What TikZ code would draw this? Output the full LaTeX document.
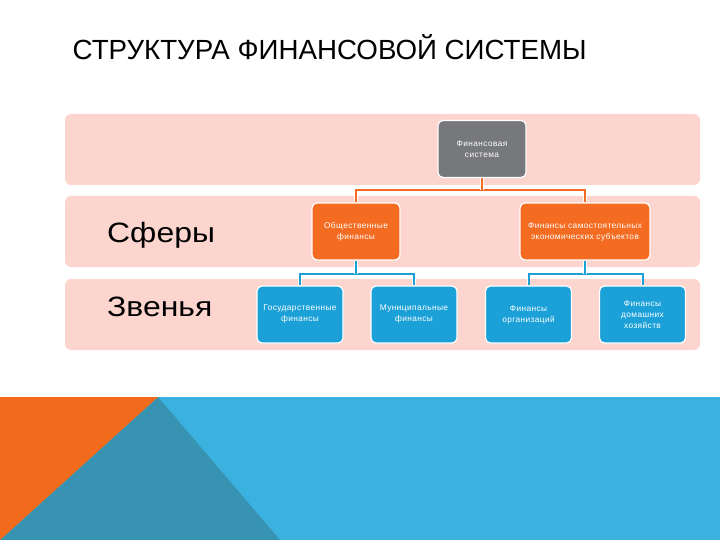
\documentclass[tikz,border=0pt]{standalone}
\usepackage{fontspec}
\setmainfont{Liberation Sans}
\definecolor{bandpink}{HTML}{FCD5CE}
\definecolor{sysgray}{HTML}{77787B}
\definecolor{sphorange}{HTML}{F36C21}
\definecolor{linkblue}{HTML}{1BA1D8}
\definecolor{lightblue}{HTML}{3BB1E0}
\definecolor{darkteal}{HTML}{3893B3}
\definecolor{cornerorange}{HTML}{F26B1D}
\pgfdeclarelayer{bg}
\pgfdeclarelayer{edges}
\pgfsetlayers{bg,edges,main}
\begin{document}
\begin{tikzpicture}[x=1pt, y=-1pt,
    band/.style={fill=bandpink, rounded corners=6pt},
    rowlabel/.style={anchor=base west, inner sep=0, font=\fontsize{28}{30}\selectfont\addfontfeatures{FakeStretch=1.14}},
    box/.style={draw=white, line width=1.2pt, rounded corners=5pt, text=white, align=center,
        font=\fontsize{8.3}{11}\selectfont\addfontfeatures{LetterSpace=5}, minimum height=57pt, inner sep=1pt},
    sysbox/.style={box, fill=sysgray, minimum width=88pt, text width=84pt},
    spherebox/.style={box, fill=sphorange, minimum width=88pt},
    linkbox/.style={box, fill=linkblue, minimum width=86pt, text width=84pt},
    oline/.style={draw=sphorange, line width=2pt, preaction={draw=white, line width=3.6pt}},
    bline/.style={draw=linkblue, line width=2pt, preaction={draw=white, line width=3.6pt}}]
    \useasboundingbox (0,0) rectangle (720,540);
    % nodes
    \node[sysbox] (sys) at (482,149) {Финансовая\\система};
    \node[spherebox, text width=84pt] (pub) at (356,231.5) {Общественные\\финансы};
    \node[spherebox, minimum width=130pt, text width=127pt] (ent) at (585,231.5) {Финансы самостоятельных\\экономических субъектов};
    \node[linkbox] (gov) at (300,314.5) {Государственные\\финансы};
    \node[linkbox] (mun) at (414,314.5) {Муниципальные\\финансы};
    \node[linkbox] (org) at (528.5,314.5) {Финансы\\организаций};
    \node[linkbox] (hh) at (642.5,314.5) {Финансы\\домашних\\хозяйств};
    % title and row labels
    \node[anchor=base west, inner sep=0, font=\fontsize{27.7}{30}\selectfont] (title) at (72.5,60) {СТРУКТУРА ФИНАНСОВОЙ СИСТЕМЫ};
    \node[rowlabel] (spheres) at (107,242) {Сферы};
    \node[rowlabel] (links) at (107,316) {Звенья};
    \begin{pgfonlayer}{bg}
        \fill[white] (0,0) rectangle (720,540);
        % bottom decoration
        \fill[lightblue] (0,397) rectangle (720,540);
        \fill[darkteal] (158,397) -- (280,540) -- (0,540) -- cycle;
        \fill[cornerorange] (0,397) -- (158,397) -- (0,540) -- cycle;
        % bands
        \fill[band] (65,114) rectangle (700,185);
        \fill[band] (65,196) rectangle (700,267);
        \fill[band] (65,279) rectangle (700,350);
    \end{pgfonlayer}
    % fork levels
    \coordinate (ofork) at (0,190);
    \coordinate (bfork) at (0,274);
    % connectors
    \begin{pgfonlayer}{edges}
        \draw[oline] (pub.north) |- (sys.south |- ofork) -| (ent.north);
        \draw[oline] (sys.south) -- (sys.south |- ofork);
        \draw[bline] (gov.north) |- (pub.south |- bfork) -| (mun.north);
        \draw[bline] (pub.south) -- (pub.south |- bfork);
        \draw[bline] (org.north) |- (ent.south |- bfork) -| (hh.north);
        \draw[bline] (ent.south) -- (ent.south |- bfork);
    \end{pgfonlayer}
\end{tikzpicture}
\end{document}
